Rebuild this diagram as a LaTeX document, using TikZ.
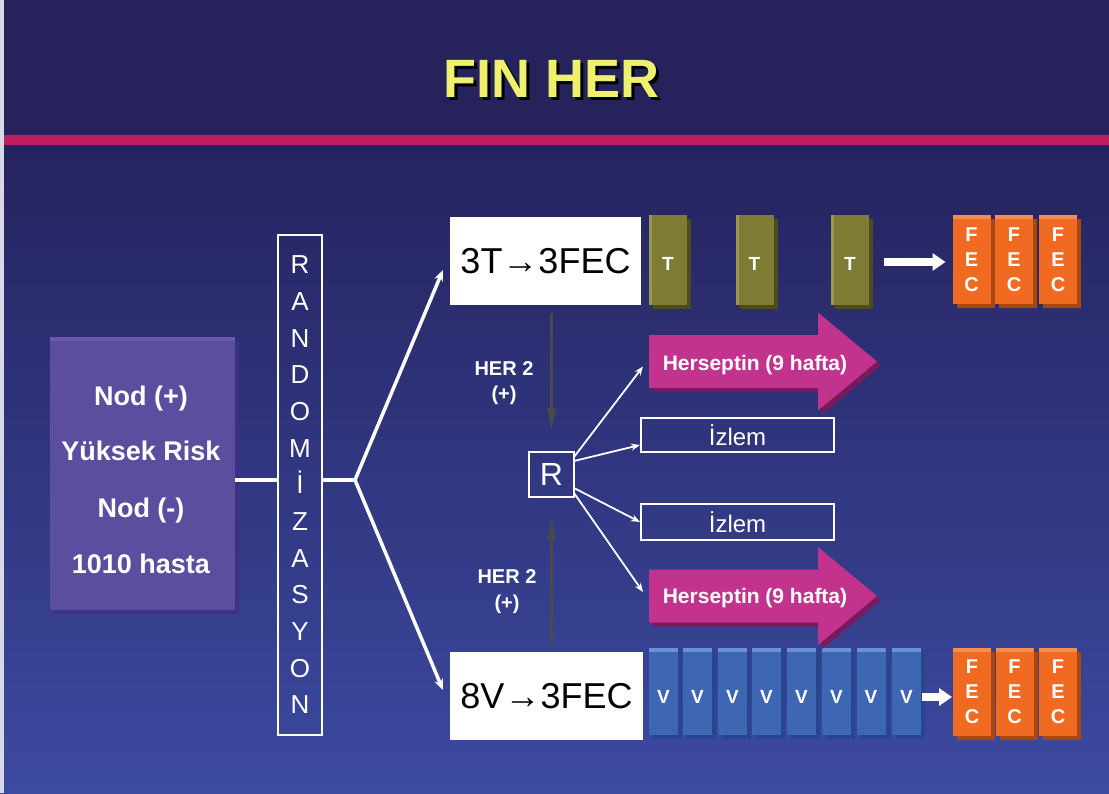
\documentclass[tikz,border=0pt]{standalone}
\usepackage{fontspec}
\setmainfont{Liberation Sans}
\usetikzlibrary{arrows.meta,shadows,calc}
\definecolor{band}{HTML}{26225C}
\definecolor{pinkline}{HTML}{C01F5F}
\definecolor{bgtop}{HTML}{25235F}
\definecolor{bgmid}{HTML}{2C3290}
\definecolor{bgbot}{HTML}{3C4AA0}
\definecolor{edge}{HTML}{D8D8E6}
\definecolor{titleyellow}{HTML}{F0F070}
\definecolor{lpurple}{HTML}{5B4E9E}
\definecolor{lpurpleD}{HTML}{3B3285}
\definecolor{lpurpleL}{HTML}{6A5BAA}
\definecolor{olive}{HTML}{7E7B35}
\definecolor{oliveD}{HTML}{4E4B1E}
\definecolor{oliveL}{HTML}{9A9850}
\definecolor{fecor}{HTML}{F06A22}
\definecolor{fecorD}{HTML}{A9470F}
\definecolor{fecorL}{HTML}{F58C50}
\definecolor{vblue}{HTML}{3D67B2}
\definecolor{vblueD}{HTML}{27468E}
\definecolor{vblueL}{HTML}{6C92D4}
\definecolor{mag}{HTML}{C1338C}
\definecolor{magD}{HTML}{7A1A5E}
\definecolor{grayarr}{HTML}{4A4A4A}
\begin{document}
\begin{tikzpicture}[x=1pt,y=-1pt,
  every node/.style={inner sep=0pt, outer sep=0pt},
  topstrip/.style={path picture={\fill[#1] (path picture bounding box.north west) rectangle ([yshift=-4pt]path picture bounding box.north east);}},
  leftstrip/.style={path picture={\fill[#1] (path picture bounding box.north west) rectangle ([xshift=3pt]path picture bounding box.south west);}},
  tbox/.style={rectangle, fill=olive, minimum width=38pt, minimum height=90pt, text=white,
    font=\bfseries\fontsize{19}{19}\selectfont, text height=21pt, text depth=0pt, leftstrip=oliveL,
    drop shadow={shadow xshift=4pt, shadow yshift=-4pt, fill=oliveD, opacity=1}},
  fecbox/.style={rectangle, fill=fecor, minimum width=38pt, minimum height=88pt, text=white, align=center,
    font=\bfseries\fontsize{20}{25}\selectfont, topstrip=fecorL,
    drop shadow={shadow xshift=4pt, shadow yshift=-4pt, fill=fecorD, opacity=1}},
  vbox/.style={rectangle, fill=vblue, minimum width=29pt, minimum height=87pt, text=white,
    font=\bfseries\fontsize{19}{19}\selectfont, text height=25pt, text depth=0pt, topstrip=vblueL,
    drop shadow={shadow xshift=4pt, shadow yshift=-4pt, fill=vblueD, opacity=1}},
  leftbox/.style={rectangle, fill=lpurple, minimum width=185pt, minimum height=273pt, topstrip=lpurpleL,
    drop shadow={shadow xshift=4pt, shadow yshift=-4pt, fill=lpurpleD, opacity=1}},
  lefttxt/.style={anchor=base, text=white, font=\bfseries\fontsize{27}{27}\selectfont},
  whitebox/.style={rectangle, fill=white, text=black, font=\fontsize{36}{36}\selectfont},
  outlinebox/.style={rectangle, draw=white, line width=2pt, text=white},
  herlbl/.style={anchor=base, text=white, font=\bfseries\fontsize{20}{20}\selectfont},
  hstext/.style={anchor=base, text=white, font=\bfseries\fontsize{21}{21}\selectfont},
  titlefont/.style={anchor=base, font=\bfseries\fontsize{54}{54}\selectfont},
  hline/.style={draw=white, line width=4.5pt},
  fork/.style={draw=white, line width=3.5pt, line cap=round, -{Stealth[length=11pt,width=9pt]}},
  rarrow/.style={draw=white, line width=1.8pt, -{Stealth[length=9pt,width=7pt]}},
  grayarrow/.style={draw=grayarr, line width=3pt, -{Triangle[length=22pt,width=8pt]}},
  bigarrow/.style={draw=white, line width=7.5pt, -{Triangle[length=13pt,width=17pt]}}
]
\useasboundingbox (0,0) rectangle (1109,793);
% background
\fill[band] (0,0) rectangle (1109,136);
\shade[top color=bgtop, middle color=bgmid, bottom color=bgbot] (0,144) rectangle (1109,793);
\fill[pinkline] (0,135) rectangle (1109,145);
\fill[edge] (0,0) rectangle (4,793);
% title
\node[titlefont, text=black] (titleshadow) at (554.5,100) {FIN HER};
\node[titlefont, text=titleyellow] (title) at (551.5,97) {FIN HER};
% left box
\node[leftbox] (src) at (142.5,473.5) {};
\node[lefttxt] (l1) at (141,405) {Nod (+)};
\node[lefttxt] (l2) at (141,460) {Yüksek Risk};
\node[lefttxt] (l3) at (141,517) {Nod (-)};
\node[lefttxt] (l4) at (141,573) {1010 hasta};
% randomization box
\node[outlinebox, minimum width=44pt, minimum height=500pt, align=center,
  font=\fontsize{26}{36.67}\selectfont] (rand) at (300,485)
  {R\\A\\N\\D\\O\\M\\İ\\Z\\A\\S\\Y\\O\\N};
\coordinate (j) at (355,480);
\draw[hline] (src.east |- j) -- (rand.west |- j);
\draw[hline] (rand.east |- j) -- (j);
% arms
\node[whitebox, minimum width=191pt, minimum height=88pt] (top3T) at (545.5,261) {3T→3FEC};
\node[whitebox, minimum width=193pt, minimum height=88pt] (bot8V) at (546.5,696) {8V→3FEC};
\draw[fork] (j) -- ([xshift=-7pt,yshift=-9pt]top3T.west);
\draw[fork] (j) -- ([xshift=-7pt,yshift=6pt]bot8V.west);
% T boxes
\node[tbox] (t1) at (668,260) {T};
\node[tbox] (t2) at (754.5,260) {T};
\node[tbox] (t3) at (850,260) {T};
% top FEC
\node[fecbox, minimum height=89pt] (f1) at (971.5,259.5) {F\\E\\C};
\node[fecbox, minimum height=89pt] (f2) at (1014,259.5) {F\\E\\C};
\node[fecbox, minimum height=89pt] (f3) at (1058,259.5) {F\\E\\C};
\draw[bigarrow, shorten <=15pt, shorten >=7pt] ([yshift=-2pt]t3.east) -- ([yshift=-2.5pt]f1.west);
% V boxes
\node[vbox] (v1) at (663.5,691) {V};
\node[vbox] (v2) at (697.5,691) {V};
\node[vbox] (v3) at (732.5,691) {V};
\node[vbox] (v4) at (766.5,691) {V};
\node[vbox] (v5) at (801.5,691) {V};
\node[vbox] (v6) at (836.5,691) {V};
\node[vbox] (v7) at (871,691) {V};
\node[vbox] (v8) at (906.5,691) {V};
% bottom FEC
\node[fecbox] (f4) at (972,691.5) {F\\E\\C};
\node[fecbox] (f5) at (1014.5,691.5) {F\\E\\C};
\node[fecbox] (f6) at (1058,691.5) {F\\E\\C};
\draw[bigarrow, shorten <=1pt, shorten >=1pt] ([yshift=-6pt]v8.east) -- ([yshift=-5.5pt]f4.west);
% R box
\node[outlinebox, minimum size=45pt, font=\fontsize{32}{32}\selectfont] (r) at (551.5,474.5) {R};
\draw[grayarrow, shorten <=8pt, shorten >=22pt] (r.north |- top3T.south) -- (r.north);
\draw[grayarrow, shorten <=9pt, shorten >=21pt] (r.south |- bot8V.north) -- (r.south);
\node[herlbl] (h1a) at (504,375) {HER 2};
\node[herlbl] (h1b) at (504,400) {(+)};
\node[herlbl] (h2a) at (507,583) {HER 2};
\node[herlbl] (h2b) at (507,609) {(+)};
% Izlem boxes
\node[outlinebox, minimum width=193pt, minimum height=34pt, font=\fontsize{24}{24}\selectfont] (iz1) at (737.5,435) {İzlem};
\node[outlinebox, minimum width=193pt, minimum height=36pt, font=\fontsize{24}{24}\selectfont] (iz2) at (737.5,522) {İzlem};
% Herseptin arrows
\foreach \cy/\nm/\bs in {361.5/hs1/8.5, 596/hs2/7.5} {
  \begin{scope}[shift={(649,\cy)}]
    \fill[magD] (4,-22.5) -- (173,-22.5) -- (173,-45) -- (232,4) -- (173,53) -- (173,30.5) -- (4,30.5) -- cycle;
    \fill[mag] (0,-26.5) -- (169,-26.5) -- (169,-49) -- (228,0) -- (169,49) -- (169,26.5) -- (0,26.5) -- cycle;
    \coordinate (\nm w) at (0,0);
    \node[hstext] (\nm) at (106,\bs) {Herseptin (9 hafta)};
  \end{scope}
}
% arrows from R
\draw[rarrow] ([yshift=-5pt]r.north east) -- ([xshift=-6pt,yshift=-5pt]hs1w);
\draw[rarrow] ([yshift=-9pt]r.north east) -- ([xshift=-1pt,yshift=-10pt]iz1.west);
\draw[rarrow] ([yshift=9pt]r.south east) -- ([xshift=-1pt]iz2.west);
\draw[rarrow] ([yshift=4pt]r.south east) -- ([xshift=-6pt,yshift=4pt]hs2w);
\end{tikzpicture}
\end{document}
